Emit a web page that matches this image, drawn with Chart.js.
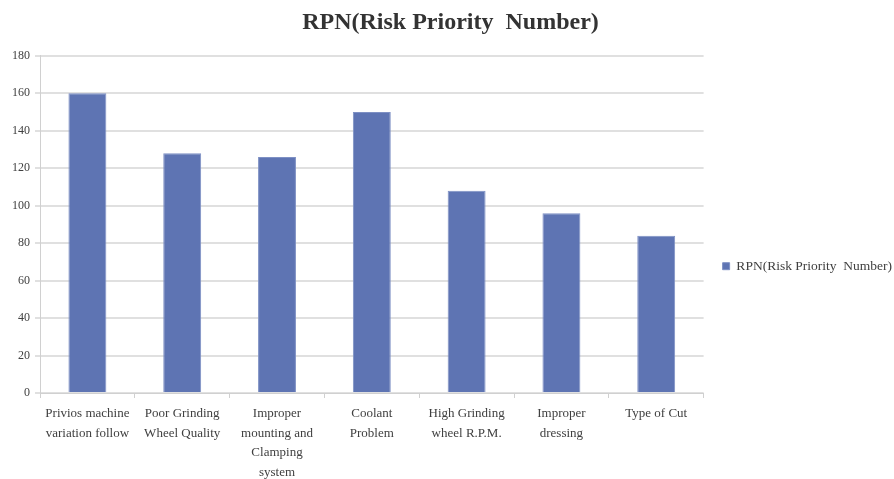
<!DOCTYPE html>
<html>
<head>
<meta charset="utf-8">
<script src="https://cdn.jsdelivr.net/npm/chart.js@4/dist/chart.umd.min.js"></script>
<style>
html,body{margin:0;padding:0;background:#fff;}
#wrap{width:894px;height:479px;position:relative;}
</style>
</head>
<body>
<div id="wrap"><canvas id="c" width="894" height="479"></canvas></div>
<script>
const categories = [
  ["Privios machine", "variation follow"],
  ["Poor Grinding", "Wheel Quality"],
  ["Improper", "mounting and", "Clamping", "system"],
  ["Coolant", "Problem"],
  ["High Grinding", "wheel R.P.M."],
  ["Improper", "dressing"],
  ["Type of Cut"]
];
const seriesName = "RPN(Risk Priority  Number)";
const rpnValues = [160, 128, 126, 150, 108, 96, 84];
const chartTitle = "RPN(Risk Priority  Number)";

const serif = "'Liberation Serif', 'DejaVu Serif', serif";
Chart.defaults.font.family = serif;
Chart.defaults.color = '#404040';

// Trim the legend's reserved width so its items sit closer to the right edge
const legendTrim = {
  id: 'legendTrim',
  beforeUpdate(chart) {
    const lg = chart.legend;
    if (lg && !lg._trimmed) {
      const orig = lg.fit.bind(lg);
      lg.fit = function () { orig(); this.width -= 8; };
      lg._trimmed = true;
    }
  }
};

new Chart(document.getElementById('c'), {
  type: 'bar',
  data: {
    labels: categories,
    datasets: [{
      label: seriesName,
      data: rpnValues,
      backgroundColor: '#5E74B3',
      borderColor: '#7E90C4',
      borderWidth: 1,
      categoryPercentage: 1.0,
      barPercentage: 0.4
    }]
  },
  plugins: [legendTrim],
  options: {
    responsive: false,
    animation: false,
    layout: { padding: { left: 7, right: 0, top: 4, bottom: 0 } },
    plugins: {
      title: {
        display: true,
        text: chartTitle,
        font: { size: 24, weight: 'bold', family: serif },
        color: '#333333',
        padding: { top: 4, bottom: 19 }
      },
      legend: {
        position: 'right',
        title: {
          display: true,
          text: ' ',
          font: { size: 12 },
          padding: { top: 18, bottom: 17 }
        },
        labels: {
          boxWidth: 7,
          boxHeight: 7,
          padding: 19,
          font: { size: 13.5, family: serif },
          color: '#404040'
        }
      },
      tooltip: { enabled: false }
    },
    scales: {
      x: {
        afterFit(scale) { scale.height = 86; },
        grid: {
          drawOnChartArea: false,
          drawTicks: true,
          tickLength: 5,
          color: '#d0d0d0'
        },
        border: { color: '#d0d0d0' },
        ticks: {
          maxRotation: 0,
          minRotation: 0,
          font: { size: 13, family: serif, lineHeight: 1.5 },
          color: '#404040',
          padding: 6
        }
      },
      y: {
        min: 0,
        max: 180,
        ticks: {
          stepSize: 20,
          font: { size: 12, family: serif },
          color: '#404040',
          padding: 5
        },
        grid: {
          color: '#e0e0e0',
          lineWidth: 2,
          tickLength: 5
        },
        border: { color: '#d0d0d0' }
      }
    }
  }
});
</script>
</body>
</html>
